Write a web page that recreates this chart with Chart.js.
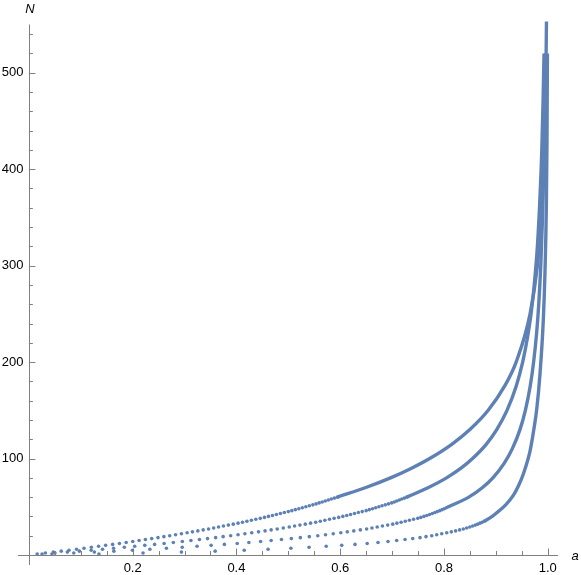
<!DOCTYPE html>
<html>
<head>
<meta charset="utf-8">
<script src="https://cdn.jsdelivr.net/npm/chart.js@4.4.1/dist/chart.umd.min.js"></script>
<style>
  html, body { margin: 0; padding: 0; background: #fff; }
  #wrap { width: 581px; height: 575px; }
</style>
</head>
<body>
<div id="wrap"><canvas id="chart-area" width="581" height="575"></canvas></div>
<script>
// dots at N = 1, 2, 3 ... (value = a of each dot)
var curve1Dots = [0.016, 0.0317, 0.0471, 0.0623, 0.0772, 0.0918, 0.1062, 0.1204, 0.1343, 0.1479,
    0.1614, 0.1745, 0.1875, 0.2002, 0.2124, 0.2245, 0.2367, 0.2488, 0.2602, 0.2714,
    0.2827, 0.294, 0.3049, 0.3152, 0.3256, 0.3359, 0.3463, 0.3561, 0.3655, 0.375,
    0.3845, 0.3939, 0.4031, 0.4117, 0.4202, 0.4288, 0.4374, 0.446, 0.4541, 0.4617,
    0.4694, 0.477, 0.4847, 0.4923, 0.5, 0.5068, 0.5135, 0.5203, 0.527, 0.5338,
    0.5405, 0.5473, 0.5535, 0.5594, 0.5653, 0.5712, 0.5771, 0.5829, 0.5888, 0.5947];
var curve2Dots = [0.0254, 0.0502, 0.0741, 0.0974, 0.12, 0.1419, 0.1632, 0.1839, 0.2039, 0.2234,
    0.2423, 0.2606, 0.2784, 0.2957, 0.3123, 0.3287, 0.3443, 0.3599, 0.3744, 0.3889,
    0.4031, 0.4163, 0.4295, 0.4426, 0.4552, 0.4669, 0.4786, 0.4903, 0.5018, 0.5121,
    0.5224, 0.5327, 0.5429, 0.5528, 0.5616, 0.5705, 0.5794, 0.5883, 0.5971, 0.6051,
    0.6126, 0.62, 0.6275, 0.635, 0.6425, 0.65, 0.6561, 0.6623, 0.6684, 0.6746,
    0.6807, 0.6869, 0.693, 0.6992, 0.7042, 0.7091, 0.714, 0.7188, 0.7237, 0.7285];
var curve3Dots = [0.0444, 0.0865, 0.1262, 0.1638, 0.1996, 0.2332, 0.2651, 0.2955, 0.3241, 0.3512,
    0.3768, 0.4015, 0.424, 0.4466, 0.4669, 0.4868, 0.5058, 0.5232, 0.5405, 0.5568,
    0.5717, 0.5866, 0.6012, 0.6137, 0.6262, 0.6388, 0.651, 0.6612, 0.6713, 0.6814,
    0.6916, 0.7013, 0.7093, 0.7174, 0.7254, 0.7334, 0.7414, 0.7495, 0.7555, 0.7614,
    0.767, 0.7724, 0.7776, 0.7826, 0.7874, 0.792, 0.7964, 0.8006, 0.8046, 0.8085];
var curve4Dots = [0.135, 0.22, 0.294, 0.359, 0.415, 0.461, 0.505, 0.54, 0.573, 0.603,
    0.6286, 0.652, 0.6729, 0.6922, 0.7089, 0.725, 0.7398, 0.7539, 0.7654, 0.7764,
    0.786, 0.7957, 0.8053, 0.8142, 0.8225, 0.8302, 0.8373, 0.8438, 0.8498, 0.8553,
    0.8604, 0.8651, 0.8695, 0.8736, 0.8775];

// upper part, where the dots merge into a solid line
var curve1LineA = [0.5947, 0.6495, 0.697, 0.7376, 0.7725, 0.8157, 0.85, 0.8853, 0.9168, 0.9391,
    0.966, 0.9801, 0.9877, 0.9922, 0.9949, 0.9965, 0.9976];
var curve1LineN = [60, 70, 80, 90, 100, 115, 130, 150, 175, 200, 250, 300, 350, 400, 450, 500, 553];
var curve2LineA = [0.7285, 0.7701, 0.805, 0.8329, 0.8551, 0.8818, 0.9017, 0.9215, 0.9392, 0.9517,
    0.9608, 0.9679, 0.974, 0.9801, 0.985, 0.9886, 0.991, 0.9929];
var curve2LineN = [60, 70, 80, 90, 100, 115, 130, 150, 175, 200, 225, 250, 280, 320, 370, 420, 470, 520];
var curve3LineA = [0.8085, 0.8478, 0.8744, 0.8943, 0.916, 0.9316, 0.9465, 0.9569, 0.9662, 0.9728,
    0.9786, 0.9827, 0.9866, 0.99, 0.9923, 0.9942, 0.9955];
var curve3LineN = [50, 60, 70, 80, 95, 110, 130, 150, 175, 200, 230, 260, 300, 350, 400, 460, 520];
var curve4LineA = [0.8775, 0.893, 0.9045, 0.919, 0.934, 0.9439, 0.953, 0.966, 0.9732, 0.979,
    0.985, 0.9915, 0.9948, 0.9973, 0.9986, 0.9994];
var curve4LineN = [35, 40, 45, 52, 62, 72, 84, 108, 130, 152, 187, 244, 295, 360, 430, 520];

var xTickLabels = [0.2, 0.4, 0.6, 0.8, 1.0];
var yTickLabels = [100, 200, 300, 400, 500];

var curveColor = '#5e81b5';
var axisColor = '#808080';
var fontFamily = '"Liberation Sans", Arial, sans-serif';
var dataClip = { left: 4, top: 4, right: 4, bottom: 4 };

function dotsDataset(list) {
    return {
        data: list.map(function (a, i) { return { x: a, y: i + 1 }; }),
        showLine: false,
        clip: dataClip,
        pointRadius: 1.8,
        pointBorderWidth: 0,
        pointBackgroundColor: curveColor,
        pointHoverRadius: 0
    };
}

function lineDataset(aList, nList) {
    return {
        data: aList.map(function (a, i) { return { x: a, y: nList[i] }; }),
        showLine: true,
        clip: dataClip,
        pointRadius: 0,
        borderWidth: 3.4,
        borderColor: curveColor,
        cubicInterpolationMode: 'monotone'
    };
}

//axes cross at the origin and run a bit past it, ticks point inward (mathematica style)
var axesPlugin = {
    id: 'axes',
    afterDatasetsDraw: function (chart) {
        var ctx = chart.ctx;
        var xs = chart.scales.x, ys = chart.scales.y;
        var x0 = xs.getPixelForValue(0), y0 = ys.getPixelForValue(0);
        ctx.save();
        ctx.strokeStyle = axisColor;
        ctx.lineWidth = 1;
        ctx.beginPath();
        ctx.moveTo(x0 - 11, Math.round(y0) + 0.5);
        ctx.lineTo(xs.right, Math.round(y0) + 0.5);
        ctx.moveTo(Math.round(x0) + 0.5, y0 + 10);
        ctx.lineTo(Math.round(x0) + 0.5, ys.top);
        ctx.stroke();

        ctx.beginPath();
        for (var k = 1; k <= 20; k++) {
            var px = Math.round(xs.getPixelForValue(k * 0.05)) + 0.5;
            var len = (k % 4 === 0) ? 6.5 : 4;
            ctx.moveTo(px, y0);
            ctx.lineTo(px, y0 - len);
        }
        for (var j = 1; j <= 27; j++) {
            var py = Math.round(ys.getPixelForValue(j * 20)) + 0.5;
            var ylen = (j % 5 === 0) ? 6.5 : 4;
            ctx.moveTo(x0, py);
            ctx.lineTo(x0 + ylen, py);
        }
        ctx.stroke();

        ctx.fillStyle = '#000';
        ctx.font = 'italic 13px ' + fontFamily;
        ctx.textAlign = 'center';
        ctx.textBaseline = 'middle';
        ctx.fillText('N', x0 + 1, 9);
        ctx.fillText('a', xs.right + 17, y0 + 1);
        ctx.restore();
    }
};

var chart = new Chart(document.getElementById('chart-area').getContext('2d'), {
    type: 'scatter',
    data: {
        datasets: [
            dotsDataset(curve1Dots), dotsDataset(curve2Dots), dotsDataset(curve3Dots), dotsDataset(curve4Dots),
            lineDataset(curve1LineA, curve1LineN), lineDataset(curve2LineA, curve2LineN),
            lineDataset(curve3LineA, curve3LineN), lineDataset(curve4LineA, curve4LineN)
        ]
    },
    options: {
        responsive: false,
        devicePixelRatio: 1,
        animation: false,
        events: [],
        layout: { padding: { top: 24.5, right: 22.9, left: 0, bottom: 0 } },
        plugins: { legend: { display: false }, tooltip: { enabled: false } },
        scales: {
            x: {
                type: 'linear',
                min: 0,
                max: 1.02,
                grid: { display: false, drawTicks: false },
                border: { display: false },
                afterFit: function (s) { s.height = 20; },
                ticks: {
                    stepSize: 0.2,
                    includeBounds: false,
                    autoSkip: false,
                    maxRotation: 0,
                    padding: 6,
                    color: '#000',
                    font: { family: fontFamily, size: 13 },
                    callback: function (v) {
                        var hit = xTickLabels.find(function (t) { return Math.abs(t - v) < 1e-6; });
                        return hit === undefined ? '' : hit.toFixed(1);
                    }
                }
            },
            y: {
                type: 'linear',
                min: 0,
                max: 550,
                grid: { display: false, drawTicks: false },
                border: { display: false },
                afterFit: function (s) { s.width = 28.9; },
                ticks: {
                    stepSize: 100,
                    includeBounds: false,
                    autoSkip: false,
                    padding: 5.5,
                    color: '#000',
                    font: { family: fontFamily, size: 13 },
                    callback: function (v) {
                        return yTickLabels.indexOf(v) >= 0 ? String(v) : '';
                    }
                }
            }
        }
    },
    plugins: [axesPlugin]
});
</script>
</body>
</html>
